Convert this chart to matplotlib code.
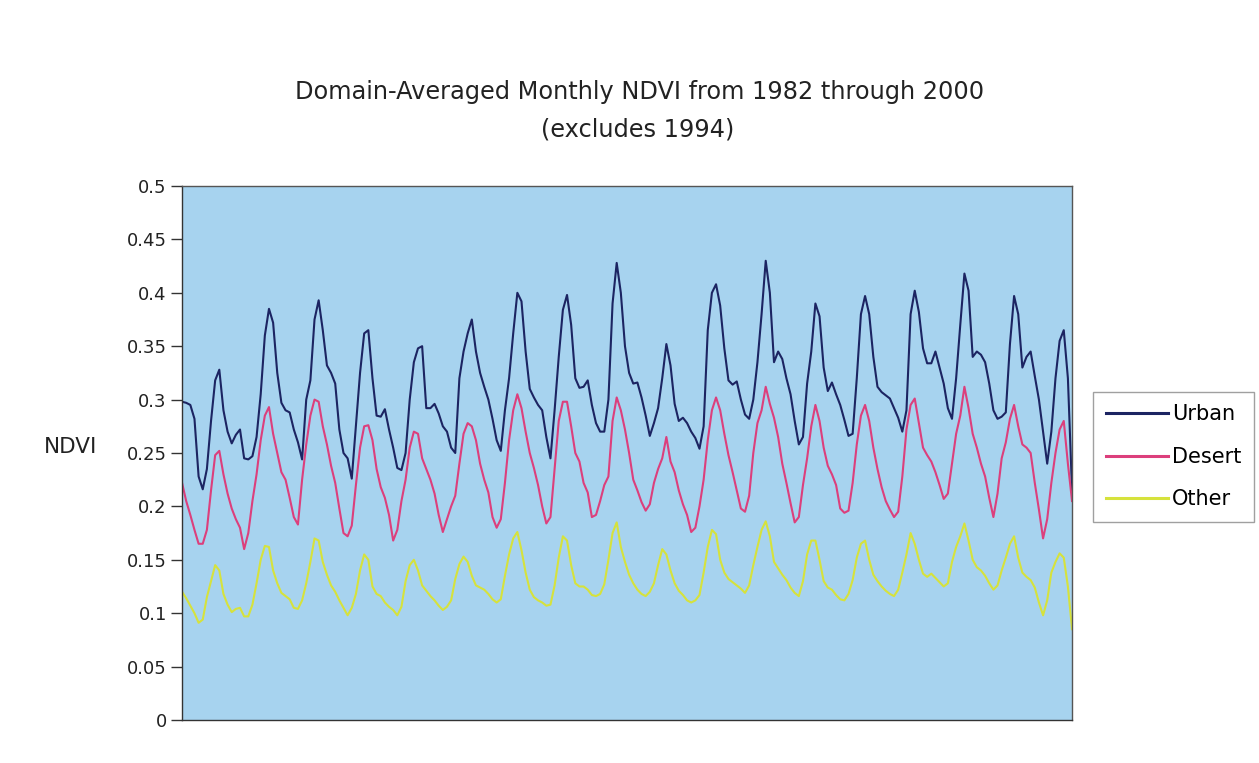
import matplotlib
matplotlib.use("Agg")
import matplotlib.pyplot as plt
import numpy as np

title_line1 = "Domain-Averaged Monthly NDVI from 1982 through 2000"
title_line2 = "(excludes 1994)"
y_label = "NDVI"
series_names = ["Urban", "Desert", "Other"]
y_ticks = [0, 0.05, 0.1, 0.15, 0.2, 0.25, 0.3, 0.35, 0.4, 0.45, 0.5]
y_tick_labels = ["0", "0.05", "0.1", "0.15", "0.2", "0.25", "0.3", "0.35", "0.4", "0.45", "0.5"]

urban = [
    0.298, 0.297, 0.295, 0.282, 0.228, 0.216, 0.235, 0.280, 0.318, 0.328, 0.290, 0.270,
    0.259, 0.267, 0.272, 0.245, 0.244, 0.247, 0.265, 0.305, 0.360, 0.385, 0.372, 0.325,
    0.297, 0.290, 0.288, 0.272, 0.260, 0.244, 0.300, 0.318, 0.375, 0.393, 0.365, 0.332,
    0.325, 0.315, 0.272, 0.250, 0.245, 0.226, 0.275, 0.325, 0.362, 0.365, 0.320, 0.285,
    0.284, 0.291, 0.272, 0.255, 0.236, 0.234, 0.250, 0.300, 0.335, 0.348, 0.350, 0.292,
    0.292, 0.296, 0.287, 0.275, 0.270, 0.255, 0.250, 0.320, 0.345, 0.362, 0.375, 0.345,
    0.325, 0.312, 0.300, 0.282, 0.262, 0.252, 0.290, 0.320, 0.362, 0.400, 0.392, 0.345,
    0.310, 0.302, 0.295, 0.290, 0.265, 0.245, 0.290, 0.340, 0.384, 0.398, 0.370, 0.320,
    0.311, 0.312, 0.318, 0.295, 0.278, 0.270, 0.270, 0.300, 0.390, 0.428, 0.400, 0.350,
    0.325, 0.315, 0.316, 0.302, 0.285, 0.266, 0.278, 0.292, 0.320, 0.352, 0.332, 0.296,
    0.280, 0.283, 0.278, 0.270, 0.264, 0.254, 0.275, 0.365, 0.400, 0.408, 0.388, 0.348,
    0.318, 0.314, 0.317, 0.300, 0.286, 0.282, 0.300, 0.335, 0.380, 0.430, 0.400, 0.335,
    0.345, 0.338, 0.320, 0.305, 0.280, 0.258, 0.265, 0.315, 0.345, 0.390, 0.378, 0.330,
    0.308, 0.316, 0.305, 0.295, 0.281, 0.266, 0.268, 0.320, 0.380, 0.397, 0.380, 0.340,
    0.312, 0.307, 0.304, 0.301, 0.292, 0.283, 0.270, 0.290, 0.380, 0.402, 0.382, 0.348,
    0.334, 0.334, 0.345, 0.330, 0.315, 0.292, 0.282, 0.320, 0.370, 0.418, 0.402, 0.340,
    0.345, 0.342, 0.335, 0.315, 0.290, 0.282, 0.284, 0.288, 0.352, 0.397, 0.380, 0.330,
    0.340, 0.345, 0.322, 0.300, 0.270, 0.240, 0.270, 0.320, 0.355, 0.365, 0.320, 0.215,
]

desert = [
    0.222, 0.205, 0.192, 0.178, 0.165, 0.165, 0.178, 0.215, 0.248, 0.252, 0.230, 0.212,
    0.198, 0.188, 0.180, 0.160, 0.175, 0.205, 0.230, 0.262, 0.285, 0.293, 0.268, 0.250,
    0.232, 0.225, 0.208, 0.190, 0.183, 0.225, 0.258, 0.285, 0.300, 0.298, 0.275, 0.258,
    0.238, 0.222, 0.198, 0.175, 0.172, 0.182, 0.220, 0.255, 0.275, 0.276, 0.262, 0.235,
    0.218, 0.208, 0.192, 0.168, 0.178, 0.205, 0.225, 0.255, 0.270, 0.268, 0.245, 0.235,
    0.225, 0.212, 0.192, 0.176, 0.188, 0.200, 0.210, 0.240, 0.268, 0.278, 0.275, 0.262,
    0.240, 0.225, 0.213, 0.190, 0.180, 0.188, 0.222, 0.262, 0.290, 0.305, 0.292, 0.270,
    0.250, 0.236, 0.220, 0.200, 0.184, 0.190, 0.235, 0.280, 0.298, 0.298, 0.275, 0.250,
    0.242, 0.222, 0.213, 0.190, 0.192, 0.205, 0.220, 0.228, 0.280, 0.302, 0.290, 0.272,
    0.250, 0.225, 0.215, 0.204, 0.196, 0.202, 0.222, 0.235, 0.245, 0.265, 0.242, 0.232,
    0.215, 0.202, 0.192, 0.176, 0.180, 0.200, 0.225, 0.262, 0.290, 0.302, 0.290, 0.268,
    0.248, 0.232, 0.215, 0.198, 0.195, 0.210, 0.250, 0.278, 0.290, 0.312, 0.296, 0.283,
    0.265, 0.240, 0.222, 0.203, 0.185, 0.190, 0.220, 0.245, 0.275, 0.295, 0.280, 0.255,
    0.238, 0.230, 0.220, 0.198, 0.194, 0.196, 0.222, 0.258, 0.285, 0.295, 0.280, 0.255,
    0.235, 0.218, 0.205, 0.197, 0.190, 0.195, 0.228, 0.272, 0.295, 0.301, 0.278, 0.255,
    0.248, 0.242, 0.232, 0.220, 0.207, 0.212, 0.240, 0.268, 0.285, 0.312, 0.292, 0.268,
    0.255, 0.240, 0.228, 0.208, 0.190, 0.212, 0.245, 0.260, 0.282, 0.295, 0.275, 0.258,
    0.255, 0.250, 0.222, 0.197, 0.170, 0.188, 0.222, 0.250, 0.272, 0.280, 0.240, 0.205,
]

other = [
    0.120, 0.114, 0.107, 0.100, 0.091, 0.094, 0.115, 0.130, 0.145, 0.140, 0.118, 0.108,
    0.101, 0.104, 0.105, 0.097, 0.097, 0.108, 0.128, 0.150, 0.163, 0.162, 0.140, 0.128,
    0.119, 0.116, 0.113, 0.105, 0.104, 0.112, 0.128, 0.148, 0.170, 0.168, 0.148, 0.136,
    0.126, 0.120, 0.112, 0.105, 0.098, 0.105, 0.118, 0.140, 0.155, 0.150, 0.125, 0.118,
    0.116, 0.110, 0.106, 0.103, 0.098, 0.106, 0.130, 0.145, 0.150, 0.140, 0.126, 0.121,
    0.116, 0.112, 0.107, 0.103, 0.106, 0.112, 0.132, 0.146, 0.153, 0.148, 0.135, 0.126,
    0.124, 0.122, 0.118, 0.113, 0.110, 0.113, 0.135, 0.155, 0.170, 0.176, 0.159, 0.138,
    0.122, 0.115, 0.112, 0.110, 0.107, 0.108, 0.126, 0.152, 0.172, 0.168, 0.145, 0.128,
    0.125, 0.125, 0.122, 0.117, 0.116, 0.118, 0.127, 0.150, 0.175, 0.185, 0.162, 0.148,
    0.136, 0.128, 0.122, 0.118, 0.116, 0.120, 0.128, 0.145, 0.160, 0.155, 0.140, 0.128,
    0.121, 0.117, 0.112, 0.110, 0.112, 0.117, 0.138, 0.162, 0.178, 0.174, 0.150, 0.138,
    0.132, 0.129, 0.126, 0.123, 0.119, 0.126, 0.145, 0.162, 0.178, 0.186, 0.172, 0.148,
    0.142, 0.136, 0.131, 0.124, 0.119, 0.116, 0.130, 0.155, 0.168, 0.168, 0.150, 0.130,
    0.124, 0.122, 0.117, 0.113, 0.112, 0.118, 0.131, 0.152, 0.165, 0.168, 0.150, 0.136,
    0.130, 0.125, 0.121, 0.118, 0.116, 0.122, 0.138, 0.155, 0.175, 0.165, 0.150, 0.137,
    0.134, 0.137, 0.133, 0.129, 0.125, 0.128, 0.148, 0.162, 0.172, 0.184, 0.168, 0.150,
    0.143, 0.140, 0.135, 0.128, 0.122, 0.126, 0.140, 0.152, 0.165, 0.172, 0.152, 0.138,
    0.134, 0.131, 0.124, 0.110, 0.098, 0.112, 0.138, 0.148, 0.156, 0.152, 0.125, 0.085,
]

colors = ["#1c2462", "#dc3f7c", "#d6e23c"]

fig = plt.figure(figsize=(12.59, 7.63), dpi=100)
fig.patch.set_facecolor("white")
ax = fig.add_axes([0.1446, 0.0564, 0.7069, 0.6998])
ax.set_facecolor("#a7d3ef")

x = np.arange(len(urban))
for vals, name, c in zip([urban, desert, other], series_names, colors):
    ax.plot(x, vals, color=c, lw=1.5, label=name)

ax.set_xlim(0, len(urban) - 1)
ax.set_ylim(0, 0.5)
ax.set_yticks(y_ticks)
ax.set_yticklabels(y_tick_labels, fontsize=13, color="#222222")
ax.set_xticks([])
ax.tick_params(axis="y", direction="out", length=8, width=1, color="#333333", pad=3)
for s in ax.spines.values():
    s.set_color("#555555")
    s.set_linewidth(1.0)
ax.spines["left"].set_color("#333333")
ax.spines["bottom"].set_color("#333333")

fig.text(44 / 1259, 1 - 447 / 763, y_label, fontsize=15.5, ha="left", va="center",
         color="#222222")
fig.text(640 / 1259, 1 - 92 / 763, title_line1, fontsize=17.3, ha="center",
         va="center", color="#222222")
fig.text(638 / 1259, 1 - 130 / 763, title_line2, fontsize=17.3, ha="center",
         va="center", color="#222222")

leg = ax.legend(loc="upper left", bbox_to_anchor=(1093 / 1259, 1 - 392 / 763),
                bbox_transform=fig.transFigure, frameon=True, fancybox=False,
                fontsize=15, handlelength=3.0, labelspacing=1.07,
                borderpad=0.6, handletextpad=0.2, borderaxespad=0)
leg.get_frame().set_edgecolor("#888888")
leg.get_frame().set_linewidth(1.0)
for line in leg.get_lines():
    line.set_linewidth(2.2)

fig.savefig("out.png", dpi=100, facecolor="white")
